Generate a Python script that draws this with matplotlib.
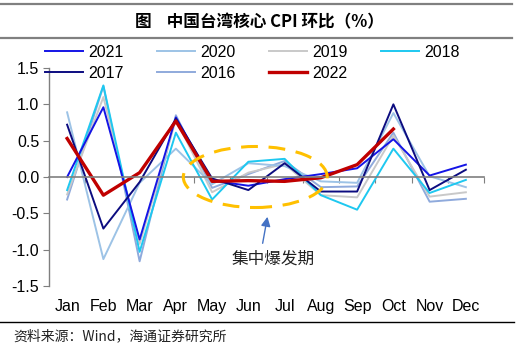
import matplotlib.pyplot as plt
from matplotlib.patches import Ellipse
from matplotlib.lines import Line2D

plt.rcParams['font.family'] = ['Liberation Sans', 'Noto Sans CJK SC', 'DejaVu Sans']
plt.rcParams['axes.unicode_minus'] = False

months = ['Jan', 'Feb', 'Mar', 'Apr', 'May', 'Jun', 'Jul', 'Aug', 'Sep', 'Oct', 'Nov', 'Dec']

y2021 = [0.00, 0.96, -0.86, 0.82, -0.05, -0.12, -0.03, 0.04, 0.12, 0.52, 0.02, 0.17]
y2020 = [0.89, -1.13, -0.08, 0.39, -0.10, 0.19, 0.15, -0.06, -0.08, 0.88, 0.01, -0.14]
y2019 = [-0.24, 1.10, -0.92, 0.79, -0.21, 0.06, 0.18, -0.25, -0.28, 0.57, -0.27, -0.21]
y2018 = [-0.18, 1.26, -1.03, 0.61, -0.31, 0.21, 0.25, -0.25, -0.45, 0.39, -0.22, -0.04]
y2017 = [0.72, -0.71, -0.07, 0.80, -0.02, -0.18, 0.19, -0.20, -0.20, 1.00, -0.18, 0.10]
y2016 = [-0.31, 1.25, -1.16, 0.85, -0.15, 0.04, 0.22, -0.14, -0.13, 0.61, -0.34, -0.30]
y2022 = [0.53, -0.25, 0.06, 0.77, -0.06, -0.05, -0.06, -0.01, 0.17, 0.66]

yticks = [-1.5, -1.0, -0.5, 0.0, 0.5, 1.0, 1.5]

series = [
    ('2016', y2016, '#8faadc', 1.4),
    ('2019', y2019, '#c9c9c9', 1.4),
    ('2020', y2020, '#9dc3e6', 1.4),
    ('2018', y2018, '#1ec8f0', 1.4),
    ('2021', y2021, '#1414e6', 1.4),
    ('2017', y2017, '#0c0c80', 1.4),
    ('2022', y2022, '#c00000', 2.4),
]

fig = plt.figure(figsize=(5.18, 3.52), dpi=100)
ax = fig.add_axes([49 / 518, 1 - 286 / 352, 435 / 518, 218 / 352])

lines = {}
for name, vals, color, lw in series:
    ln, = ax.plot(range(len(vals)), vals, color=color, lw=lw, label=name)
    lines[name] = ln

ax.set_xlim(-0.5, 11.5)
ax.set_ylim(-1.5, 1.5)

# x axis drawn at zero, labels at bottom
ax.spines['bottom'].set_position(('data', 0))
ax.spines['bottom'].set_color('#7f7f7f')
ax.spines['bottom'].set_linewidth(1.2)
ax.spines['left'].set_color('#7f7f7f')
ax.spines['left'].set_linewidth(1.0)
ax.spines['top'].set_visible(False)
ax.spines['right'].set_visible(False)
ax.set_xticks([i - 0.5 for i in range(13)])
ax.set_xticklabels([])
ax.tick_params(axis='x', direction='out', length=4, color='#7f7f7f')
ax.set_yticks(yticks)
ax.set_yticklabels(['%.1f' % v for v in yticks], fontsize=11.5)
ax.tick_params(axis='y', direction='out', length=4, color='#7f7f7f', pad=3)
for i, m in enumerate(months):
    ax.text(i, -0.092, m, transform=ax.get_xaxis_transform(), ha='center', va='center', fontsize=11.5)

# highlight
ax.add_patch(Ellipse((5.19, 0.0), 3.97, 0.84, fill=False, edgecolor='#ffc000',
                     lw=2.2, linestyle=(0, (5.5, 3.5)), zorder=5))
ax.annotate('', xy=(5.54, -0.51), xytext=(5.38, -0.95),
            arrowprops=dict(arrowstyle='-|>', color='#4472c4', lw=1.0, mutation_scale=14))
ax.text(5.68, -1.13, '集中爆发期', ha='center', va='center', fontsize=12,
        family=['Noto Sans CJK SC'], color='#222222')

# legend in row order
order = ['2021', '2017', '2020', '2016', '2019', '2022', '2018']
handles = [Line2D([], [], color=lines[k].get_color(), lw=lines[k].get_linewidth()) for k in order]
fig.legend(handles, order, loc='upper left', bbox_to_anchor=(45 / 518, 1 - 45 / 352),
           ncol=4, frameon=False, fontsize=11.5, handlelength=2.4, handletextpad=0.3,
           columnspacing=2.1, labelspacing=0.38, borderpad=0, borderaxespad=0)

# title with rules
fig.add_artist(Line2D([0, 512 / 518], [1 - 4 / 352] * 2, color='#808080', lw=1.6))
fig.add_artist(Line2D([0, 512 / 518], [1 - 38 / 352] * 2, color='#808080', lw=1.6))
fig.text(0.5, 1 - 22 / 352, '图    中国台湾核心 CPI 环比（%）', ha='center', va='center',
         fontsize=12, fontweight='bold', family=['Noto Sans CJK SC', 'DejaVu Sans'])

# source
fig.add_artist(Line2D([0, 514 / 518], [1 - 321.5 / 352] * 2, color='black', lw=1.0))
fig.text(13 / 518, 1 - 336 / 352, '资料来源：Wind，海通证券研究所', ha='left', va='center',
         fontsize=10, family=['Noto Sans CJK SC', 'DejaVu Sans'], color='#222222')

fig.savefig('out.png', dpi=100)
